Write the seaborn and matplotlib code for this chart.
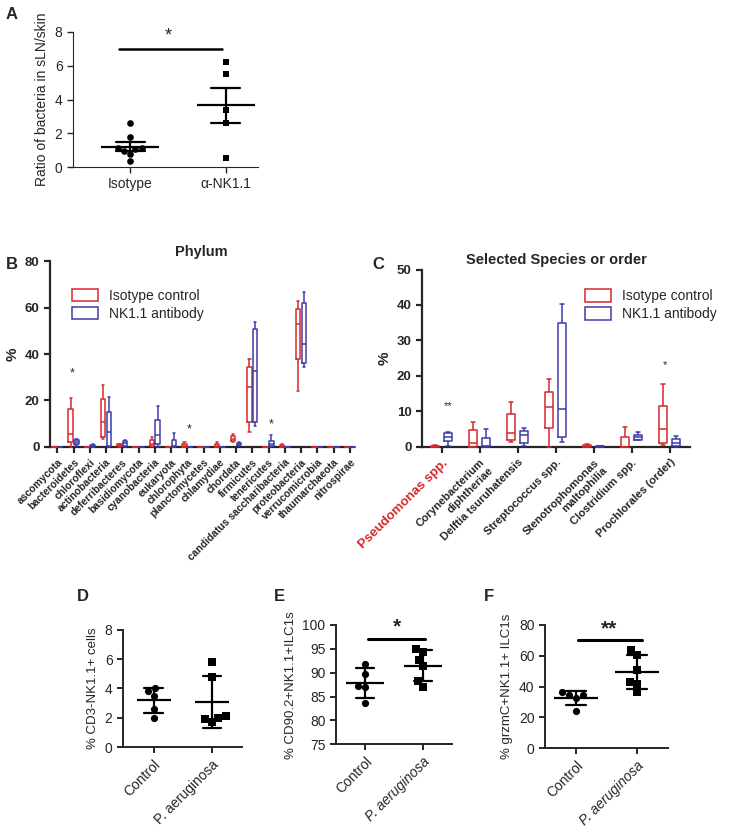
import numpy as np
import pandas as pd
import matplotlib
matplotlib.use('Agg')
import matplotlib.pyplot as plt
import seaborn as sns
from matplotlib.patches import Patch

# ---- data ----
# A: ratio of bacteria in sLN/skin
a_groups = ['Isotype', 'α-NK1.1']
a_isotype = [2.6, 1.8, 1.1, 1.05, 0.95, 1.1, 0.75, 0.35]
a_nk = [6.2, 5.5, 3.4, 2.6, 0.55]

# B: phylum, five-number summaries [min, q1, median, q3, max]
phyla = ['ascomycota', 'bacteroidetes', 'chloroflexi', 'actinobacteria', 'deferribacteres',
         'basidiomycota', 'cyanobacteria', 'eukaryota', 'chlorophyta', 'planctomycetes',
         'chlamydiae', 'chordata', 'firmicutes', 'tenericutes', 'candidatus saccharibacteria',
         'proteobacteria', 'verrucomicrobia', 'thaumarchaeota', 'nitrospirae']
phylum_iso = [[0, 0, 0, 0, 0], [0, 2, 5.5, 16.5, 21], [0, 0, 0, 0, 0], [3.5, 4, 10.5, 20.5, 26.5],
              [0, 0.2, 0.5, 1, 1.2], [0, 0, 0, 0, 0], [0, 0.5, 1, 3, 4], [0, 0, 0, 0, 0],
              [0, 0, 0.5, 1, 2], [0, 0, 0, 0, 0], [0, 0, 0.3, 1, 2], [2, 2.5, 3.5, 4.5, 5.5],
              [6.5, 10.5, 26, 34.5, 38], [0, 0, 0, 0, 0], [0, 0, 0.3, 0.8, 1],
              [24, 38, 53, 59.5, 63], [0, 0, 0, 0, 0], [0, 0, 0, 0, 0], [0, 0, 0, 0, 0]]
phylum_nk = [[0, 0, 0, 0, 0], [0.5, 1, 2, 3, 3.5], [0, 0.1, 0.3, 0.8, 1], [0, 0.5, 6.5, 15, 21.5],
             [0, 0.5, 1.5, 2.5, 3], [0, 0, 0, 0, 0], [0, 1, 5, 11.5, 17.5], [0, 0, 0.3, 3, 6],
             [0, 0, 0, 0, 0], [0, 0, 0, 0, 0], [0, 0, 0, 0, 0], [0.5, 0.7, 1.2, 1.7, 2],
             [9, 10.5, 32.5, 51, 54], [0, 0.3, 1, 2.5, 5], [0, 0, 0, 0, 0],
             [34.5, 36, 44.5, 62, 67], [0, 0, 0, 0, 0], [0, 0, 0, 0, 0], [0, 0, 0, 0, 0]]

# C: selected species or order
species = ['Pseudomonas spp.', 'Corynebacterium\ndiphtheriae', 'Delftia tsuruhatensis',
           'Streptococcus spp.', 'Stenotrophomonas\nmaltophilia', 'Clostridium spp.',
           'Prochlorales (order)']
species_iso = [[0, 0, 0.1, 0.3, 0.5], [0, 0, 1, 4.7, 7], [1.2, 2, 4, 9.2, 12.7],
               [0, 5.3, 11.3, 15.5, 19.2], [0, 0, 0.1, 0.4, 0.8], [0, 0, 0, 2.7, 5.5],
               [0.5, 1, 5, 11.5, 17.7]]
species_nk = [[0.3, 1.5, 2.7, 4, 4.1], [0, 0, 0.2, 2.5, 4.9], [0.3, 1, 3.3, 4.5, 5.3],
              [1.3, 2.7, 10.7, 35, 40.2], [0, 0, 0.1, 0.2, 0.2], [1.8, 2, 2.7, 3.2, 4.3],
              [0, 0.3, 1, 2.2, 3.1]]

# D-F
dg_groups = ['Control', 'P. aeruginosa']
d_control = [3.8, 3.5, 4.0, 2.6, 2.0]
d_pa = [5.8, 4.8, 2.0, 1.75, 1.95, 2.1]
e_control = [91.85, 89.75, 87.3, 87.0, 83.6]
e_pa = [94.4, 94.9, 92.7, 91.4, 88.2, 87.0]
f_control = [36.2, 34.7, 32.5, 34.7, 24.5]
f_pa = [60.7, 63.5, 50.9, 42.9, 41.8, 36.4]

RED = '#d6282b'
BLUE = '#3c3cab'

sns.set_style('ticks')
plt.rcParams['font.family'] = ['Liberation Sans', 'DejaVu Sans']
plt.rcParams['xtick.direction'] = 'out'
plt.rcParams['ytick.direction'] = 'out'


def dot_panel(ax, groups, ctrl, trt, err, size, meanw, cap):
    df = pd.DataFrame({'group': [groups[0]] * len(ctrl) + [groups[1]] * len(trt),
                       'value': ctrl + trt})
    sns.swarmplot(data=df[df.group == groups[0]], x='group', y='value', order=groups,
                  marker='o', color='black', size=size, ax=ax)
    sns.swarmplot(data=df[df.group == groups[1]], x='group', y='value', order=groups,
                  marker='s', color='black', size=size, ax=ax)
    sns.pointplot(data=df, x='group', y='value', order=groups, errorbar=err, capsize=cap,
                  linestyle='none', marker='_', markersize=meanw, markeredgewidth=1.6,
                  color='black', err_kws={'linewidth': 1.6}, ax=ax)
    sns.despine(ax=ax)
    ax.set_xlabel('')


def box_panel(ax, cats, iso, nk, gap):
    rows = []
    for c, a, b in zip(cats, iso, nk):
        rows += [(c, 'Isotype control', v) for v in a]
        rows += [(c, 'NK1.1 antibody', v) for v in b]
    df = pd.DataFrame(rows, columns=['cat', 'grp', 'pct'])
    sns.boxplot(data=df, x='cat', y='pct', hue='grp', order=cats,
                hue_order=['Isotype control', 'NK1.1 antibody'], palette=[RED, BLUE],
                fill=False, whis=(0, 100), width=0.7, gap=gap, linewidth=1.1,
                showfliers=False, legend=False, ax=ax)
    for ln in ax.lines:
        ln.set_zorder(3)
        ln.set_clip_on(False)
    for p in ax.patches:
        p.set_zorder(3)
    sns.despine(ax=ax)
    for s in ['left', 'bottom']:
        ax.spines[s].set_linewidth(1.6)
    ax.tick_params(width=1.6, length=4)
    ax.set_xlabel('')
    ax.set_ylabel('%', fontsize=11, fontweight='bold')
    for t in ax.get_yticklabels():
        t.set_fontweight('bold')
        t.set_fontsize(9.5)
    ax.tick_params(axis='x', labelrotation=45)
    for t in ax.get_xticklabels():
        t.set_ha('right')
        t.set_va('top')
        t.set_rotation_mode('anchor')
        t.set_fontweight('bold')
    handles = [Patch(facecolor='none', edgecolor=RED, linewidth=1.1, label='Isotype control'),
               Patch(facecolor='none', edgecolor=BLUE, linewidth=1.1, label='NK1.1 antibody')]
    return handles


fig = plt.figure(figsize=(7.33, 8.33), dpi=100)

# ---- A ----
axA = fig.add_axes([0.0996, 0.7995, 0.2524, 0.1621])
dot_panel(axA, a_groups, a_isotype, a_nk, 'se', 4.8, 42, 0.3)
axA.set_ylim(0, 8)
axA.set_yticks([0, 2, 4, 6, 8])
axA.set_xlim(-0.6, 1.34)
axA.set_ylabel('Ratio of bacteria in sLN/skin', fontsize=10)
axA.tick_params(labelsize=10, width=1, length=4)
axA.plot([-0.12, 0.96], [7, 7], color='black', lw=1.8)
axA.text(0.4, 7.25, '*', ha='center', va='bottom', fontsize=13)

# ---- B ----
axB = fig.add_axes([0.0682, 0.4637, 0.4134, 0.2225])
hB = box_panel(axB, phyla, phylum_iso, phylum_nk, 0.22)
axB.set_ylim(0, 80)
axB.set_yticks([0, 20, 40, 60, 80])
axB.set_xlim(-0.45, 18.2)
for t in axB.get_xticklabels():
    t.set_fontsize(7.4)
axB.set_title('Phylum', fontsize=10.5, fontweight='bold', pad=4)
axB.legend(handles=hB, loc='upper left', bbox_to_anchor=(0.03, 0.92), frameon=False,
           fontsize=10, handlelength=1.9, handleheight=1.0, labelspacing=0.3, handletextpad=0.8)
axB.text(0.93, 29, '*', ha='center', va='bottom', fontsize=9)
axB.text(8.12, 5, '*', ha='center', va='bottom', fontsize=9)
axB.text(13.15, 7, '*', ha='center', va='bottom', fontsize=9)

# ---- C ----
axC = fig.add_axes([0.5757, 0.4637, 0.3656, 0.2127])
hC = box_panel(axC, species, species_iso, species_nk, 0.4)
axC.set_ylim(0, 50)
axC.set_yticks([0, 10, 20, 30, 40, 50])
axC.set_xlim(-0.52, 6.53)
for i, t in enumerate(axC.get_xticklabels()):
    t.set_fontsize(8)
    if i == 0:
        t.set_color(RED)
        t.set_fontsize(9.5)
axC.set_title('Selected Species or order', fontsize=10.5, fontweight='bold', pad=4)
axC.legend(handles=hC, loc='upper left', bbox_to_anchor=(0.56, 0.96), frameon=False,
           fontsize=10, handlelength=1.9, handleheight=1.0, labelspacing=0.3, handletextpad=0.8)
axC.text(0.17, 10, '**', ha='center', va='bottom', fontsize=8)
axC.text(5.88, 21.5, '*', ha='center', va='bottom', fontsize=8)

# ---- D, E, F ----
axD = fig.add_axes([0.1678, 0.1029, 0.1623, 0.1413])
dot_panel(axD, dg_groups, d_control, d_pa, 'sd', 5.2, 24, 0.32)
axD.set_ylim(0, 8)
axD.set_yticks([0, 2, 4, 6, 8])
axD.set_xlim(-0.53, 1.52)
axD.set_ylabel('% CD3-NK1.1+ cells', fontsize=9.5)

axE = fig.add_axes([0.4584, 0.1065, 0.1583, 0.1432])
dot_panel(axE, dg_groups, e_control, e_pa, 'sd', 5.2, 28, 0.32)
axE.set_ylim(75, 100)
axE.set_yticks([75, 80, 85, 90, 95, 100])
axE.set_xlim(-0.5, 1.5)
axE.set_ylabel('% CD90.2+NK1.1+ILC1s', fontsize=9.5)
axE.plot([0.05, 1.03], [97.1, 97.1], color='black', lw=2.2)
axE.text(0.55, 97.6, '*', ha='center', va='bottom', fontsize=15, fontweight='bold')

axF = fig.add_axes([0.7435, 0.1017, 0.1678, 0.148])
dot_panel(axF, dg_groups, f_control, f_pa, 'sd', 5.2, 32, 0.34)
axF.set_ylim(0, 80)
axF.set_yticks([0, 20, 40, 60, 80])
axF.set_xlim(-0.51, 1.51)
axF.set_ylabel('% grzmC+NK1.1+ ILC1s', fontsize=9.5)
axF.plot([0.03, 1.08], [70, 70], color='black', lw=2.2)
axF.text(0.55, 71, '**', ha='center', va='bottom', fontsize=15, fontweight='bold')

for i, ax in enumerate([axD, axE, axF]):
    for s in ['left', 'bottom']:
        ax.spines[s].set_linewidth(1.4)
    ax.tick_params(labelsize=10, width=1.4, length=4)
    ax.tick_params(axis='x', labelrotation=45)
    for j, t in enumerate(ax.get_xticklabels()):
        t.set_ha('right')
        t.set_va('top')
        t.set_rotation_mode('anchor')
        if j == 1 and i > 0:
            t.set_fontstyle('italic')

# panel letters
for x, y, s in [(0.008, 0.992, 'A'), (0.008, 0.692, 'B'), (0.508, 0.692, 'C'),
                (0.105, 0.293, 'D'), (0.374, 0.293, 'E'), (0.66, 0.293, 'F')]:
    fig.text(x, y, s, fontsize=12, fontweight='bold', va='top')

fig.savefig('out.png', dpi=100)
